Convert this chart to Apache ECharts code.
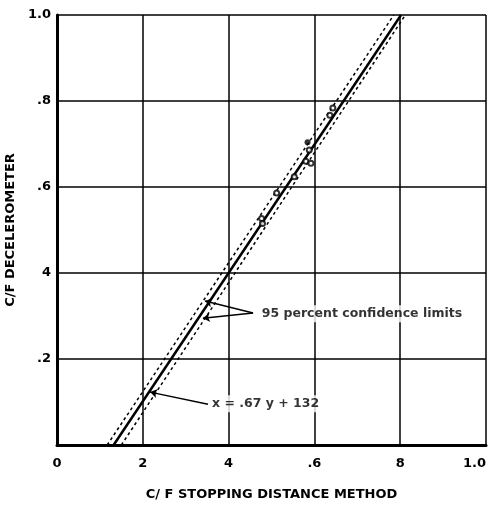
<!DOCTYPE html>
<html>
<head>
    <meta charset="UTF-8">
    <title>C/F Decelerometer</title>
    <script src="https://cdn.jsdelivr.net/npm/echarts@6/dist/echarts.min.js"></script>
    <style>
        html, body { margin: 0; padding: 0; background: #fff; }
        #main { width: 492px; height: 511px; }
    </style>
</head>
<body>
<div id="main"></div>
<script type="text/javascript">
    // tick labels as printed on the original
    var xTickLabels = ['0', '2', '4', '.6', '8', '1.0'];
    var yTickLabels = ['', '.2', '4', '.6', '.8', '1.0'];

    // measured points (stopping distance, decelerometer)
    var openPoints = [[0.477, 0.527], [0.479, 0.515], [0.512, 0.586], [0.553, 0.624],
        [0.580, 0.660], [0.588, 0.686], [0.592, 0.655], [0.636, 0.767], [0.643, 0.784]];
    var filledPoints = [[0.584, 0.704]];

    // fitted line x = .67 y + .132 and the 95% limits
    var fitLine = [[0.132, 0], [0.802, 1.0]];
    var lowerLimit = [[0.117, 0], [0.785, 1.0]];
    var upperLimit = [[0.150, 0], [0.812, 1.0]];

    // annotation arrows (from label to line)
    var limitArrows = [
        [[0.457, 0.307], [0.345, 0.335]],
        [[0.457, 0.307], [0.340, 0.295]]
    ];
    var eqArrow = [[0.352, 0.095], [0.217, 0.123]];
    var limitText = [0.468, 0.305];
    var eqText = [0.352, 0.096];

    var font = 'DejaVu Sans';
    var myChart = echarts.init(document.getElementById('main'));

    var option = {
        animation: false,
        backgroundColor: '#fff',
        grid: { left: 57, right: 6, top: 15, bottom: 66, outerBoundsMode: 'none', containLabel: false },
        xAxis: {
            type: 'value', min: 0, max: 1.0, interval: 0.2,
            name: 'C/ F STOPPING DISTANCE METHOD',
            nameLocation: 'middle', nameGap: 43,
            nameTextStyle: { fontFamily: font, fontWeight: 'bold', fontSize: 13, color: '#000' },
            axisLine: { lineStyle: { color: '#000', width: 3 } },
            axisTick: { show: false },
            axisLabel: {
                margin: 12, color: '#000', fontFamily: font, fontWeight: 'bold', fontSize: 13,
                alignMaxLabel: 'right',
                formatter: function (v) { return xTickLabels[Math.round(v / 0.2)]; }
            },
            splitLine: { lineStyle: { color: '#000', width: 1.5 } }
        },
        yAxis: {
            type: 'value', min: 0, max: 1.0, interval: 0.2,
            name: 'C/F DECELEROMETER',
            nameLocation: 'middle', nameGap: 34, nameRotate: 90,
            nameTextStyle: { fontFamily: font, fontWeight: 'bold', fontSize: 13, color: '#000' },
            axisLine: { show: true, lineStyle: { color: '#000', width: 3 } },
            axisTick: { show: false },
            axisLabel: {
                margin: 6, color: '#000', fontFamily: font, fontWeight: 'bold', fontSize: 13,
                formatter: function (v) { return yTickLabels[Math.round(v / 0.2)]; }
            },
            splitLine: { lineStyle: { color: '#000', width: 1.5 } }
        },
        series: [
            {
                type: 'line', data: fitLine, symbol: 'none', z: 5,
                lineStyle: { color: '#000', width: 2.5 }
            },
            {
                type: 'line', data: lowerLimit, symbol: 'none', z: 4,
                lineStyle: { color: '#000', width: 1.5, type: [3, 3] }
            },
            {
                type: 'line', data: upperLimit, symbol: 'none', z: 4,
                lineStyle: { color: '#000', width: 1.5, type: [3, 3] }
            },
            {
                type: 'scatter', data: openPoints, symbol: 'emptyCircle', symbolSize: 5, z: 6,
                itemStyle: { color: '#000', borderColor: '#000', borderWidth: 1.3 }
            },
            {
                type: 'scatter', data: filledPoints, symbol: 'circle', symbolSize: 6, z: 6,
                itemStyle: { color: '#000' }
            },
            {
                type: 'lines', coordinateSystem: 'cartesian2d', z: 7,
                symbol: ['none', 'arrow'], symbolSize: 7,
                lineStyle: { color: '#000', width: 1.5, opacity: 1 },
                data: limitArrows.map(function (c) { return { coords: c }; })
                    .concat([{ coords: eqArrow }])
            },
            {
                type: 'scatter', symbolSize: 0, z: 8,
                data: [
                    { value: limitText, label: { formatter: '95 percent confidence limits' } },
                    { value: eqText, label: { formatter: 'x = .67 y + 132' } }
                ],
                label: {
                    show: true, position: 'right', distance: 2, color: '#000',
                    fontFamily: font, fontWeight: 'bold', fontSize: 12.5,
                    backgroundColor: '#fff', padding: [2, 2]
                }
            }
        ]
    };
    myChart.setOption(option);
</script>
</body>
</html>
